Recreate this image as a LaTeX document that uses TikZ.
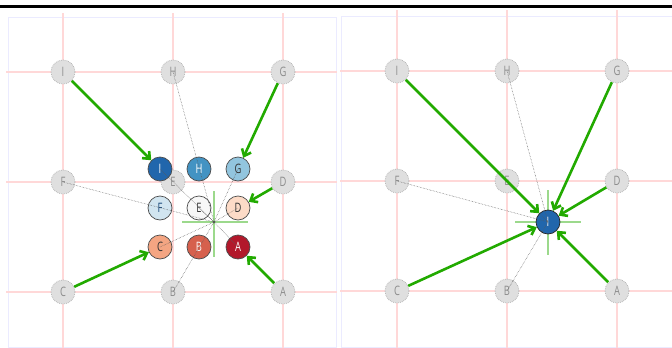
\documentclass[tikz,border=0pt]{standalone}
\usepackage{fontspec}
\usepackage{tikz}
\usetikzlibrary{arrows.meta}
\newfontfamily\cellfont[FakeStretch=0.72]{Open Sans}
\definecolor{movegreen}{HTML}{22AA00}
\definecolor{gridpink}{HTML}{FFD8D8}
\definecolor{rdbuA}{HTML}{B2182B}
\definecolor{rdbuB}{HTML}{D6604D}
\definecolor{rdbuC}{HTML}{F4A582}
\definecolor{rdbuD}{HTML}{FDDBC7}
\definecolor{rdbuE}{HTML}{F7F7F7}
\definecolor{rdbuF}{HTML}{D1E5F0}
\definecolor{rdbuG}{HTML}{92C5DE}
\definecolor{rdbuH}{HTML}{4393C3}
\definecolor{rdbuI}{HTML}{2166AC}
\tikzset{
    gridline/.style={draw=gridpink, line width=1.2},
    panel/.style={draw=blue!8, line width=0.8},
    ghost/.style={circle, minimum size=24, inner sep=0pt, fill=gray!25, draw=gray!55,
        line width=0.8, densely dotted, text=gray!90, font=\cellfont\fontsize{13}{13}\selectfont},
    cell/.style={circle, minimum size=24, inner sep=0pt, draw=black!70, line width=0.7,
        font=\cellfont\fontsize{13}{13}\selectfont},
    move/.style={draw=movegreen, line width=2.6, -{Straight Barb[length=6pt,width=10pt]}},
    trace/.style={draw=black!65, densely dotted, line width=0.5},
    crosshair/.style={draw=movegreen!45, line width=1.2}
}
\begin{document}
\begin{tikzpicture}[x=1pt, y=-1pt]
    \useasboundingbox (0,0) rectangle (672,348);
    \draw[line width=3] (0,6) -- (672,6);

    % left panel: grid and frame
    \draw[panel] (8,17) rectangle (336,347);
    \draw[gridline] (63,13) -- (63,348);
    \draw[gridline] (173,13) -- (173,348);
    \draw[gridline] (283,13) -- (283,348);
    \draw[gridline] (6,72) -- (337,72);
    \draw[gridline] (6,182) -- (337,182);
    \draw[gridline] (6,292) -- (337,292);

    % left panel: start positions
    \node[ghost] (lI) at (63,72) {I};
    \node[ghost] (lH) at (173,72) {H};
    \node[ghost] (lG) at (283,72) {G};
    \node[ghost] (lF) at (63,182) {F};
    \node[ghost] (lE) at (173,182) {E};
    \node[ghost] (lD) at (283,182) {D};
    \node[ghost] (lC) at (63,292) {C};
    \node[ghost] (lB) at (173,292) {B};
    \node[ghost] (lA) at (283,292) {A};

    % left panel: scaled positions
    \node[cell, fill=rdbuI, text=white] (mI) at (160,169) {I};
    \node[cell, fill=rdbuH, text=white] (mH) at (199,169) {H};
    \node[cell, fill=rdbuG, text=black!80] (mG) at (238,169) {G};
    \node[cell, fill=rdbuF, text=rdbuI!70!black] (mF) at (160,208) {F};
    \node[cell, fill=rdbuE, text=black!80] (mE) at (199,208) {E};
    \node[cell, fill=rdbuD, text=black!80] (mD) at (238,208) {D};
    \node[cell, fill=rdbuC, text=black!80] (mC) at (160,247) {C};
    \node[cell, fill=rdbuB, text=white] (mB) at (199,247) {B};
    \node[cell, fill=rdbuA, text=white] (mA) at (238,247) {A};

    % left panel: origin of the scaling
    \coordinate (lO) at (214,222);
    \draw[crosshair] (182,222) -- (248,222);
    \draw[crosshair] (214,191) -- (214,257);
    \fill[black!70] (lO) circle (1.3);

    \draw[trace] (lH.center) -- (lO);
    \draw[trace] (lF.center) -- (lO);
    \draw[trace] (lB.center) -- (lO);
    \draw[trace] (mI.center) -- (lO);
    \draw[trace] (mG.center) -- (lO);
    \draw[trace] (mE.center) -- (lO);
    \draw[trace] (mD.center) -- (lO);
    \draw[trace] (mC.center) -- (lO);
    \draw[trace] (mA.center) -- (lO);

    \draw[move] (lI) -- (mI);
    \draw[move] (lG) -- (mG);
    \draw[move] (lD) -- (mD);
    \draw[move] (lC) -- (mC);
    \draw[move] (lA) -- (mA);

    % right panel: grid and frame
    \draw[panel] (341,16) rectangle (673,347);
    \draw[gridline] (397,10) -- (397,348);
    \draw[gridline] (507,10) -- (507,348);
    \draw[gridline] (617,10) -- (617,348);
    \draw[gridline] (340,71) -- (672,71);
    \draw[gridline] (340,181) -- (672,181);
    \draw[gridline] (340,291) -- (672,291);

    % right panel: start positions
    \node[ghost] (rI) at (397,71) {I};
    \node[ghost] (rH) at (507,71) {H};
    \node[ghost] (rG) at (617,71) {G};
    \node[ghost] (rF) at (397,181) {F};
    \node[ghost] (rE) at (507,181) {E};
    \node[ghost] (rD) at (617,181) {D};
    \node[ghost] (rC) at (397,291) {C};
    \node[ghost] (rB) at (507,291) {B};
    \node[ghost] (rA) at (617,291) {A};

    % right panel: everything collapsed onto the origin
    \coordinate (rO) at (548,222);
    \draw[crosshair] (515,222) -- (581,222);
    \draw[crosshair] (548,190) -- (548,255);
    \node[cell, fill=rdbuI, text=white, draw=black!85] (zI) at (rO) {I};

    \draw[trace] (rH.center) -- (rO);
    \draw[trace] (rF.center) -- (rO);
    \draw[trace] (rB.center) -- (rO);
    \draw[trace] (rE.center) -- (rO);

    \draw[move] (rI) -- (zI);
    \draw[move] (rG) -- (zI);
    \draw[move] (rD) -- (zI);
    \draw[move] (rC) -- (zI);
    \draw[move] (rA) -- (zI);
\end{tikzpicture}
\end{document}
